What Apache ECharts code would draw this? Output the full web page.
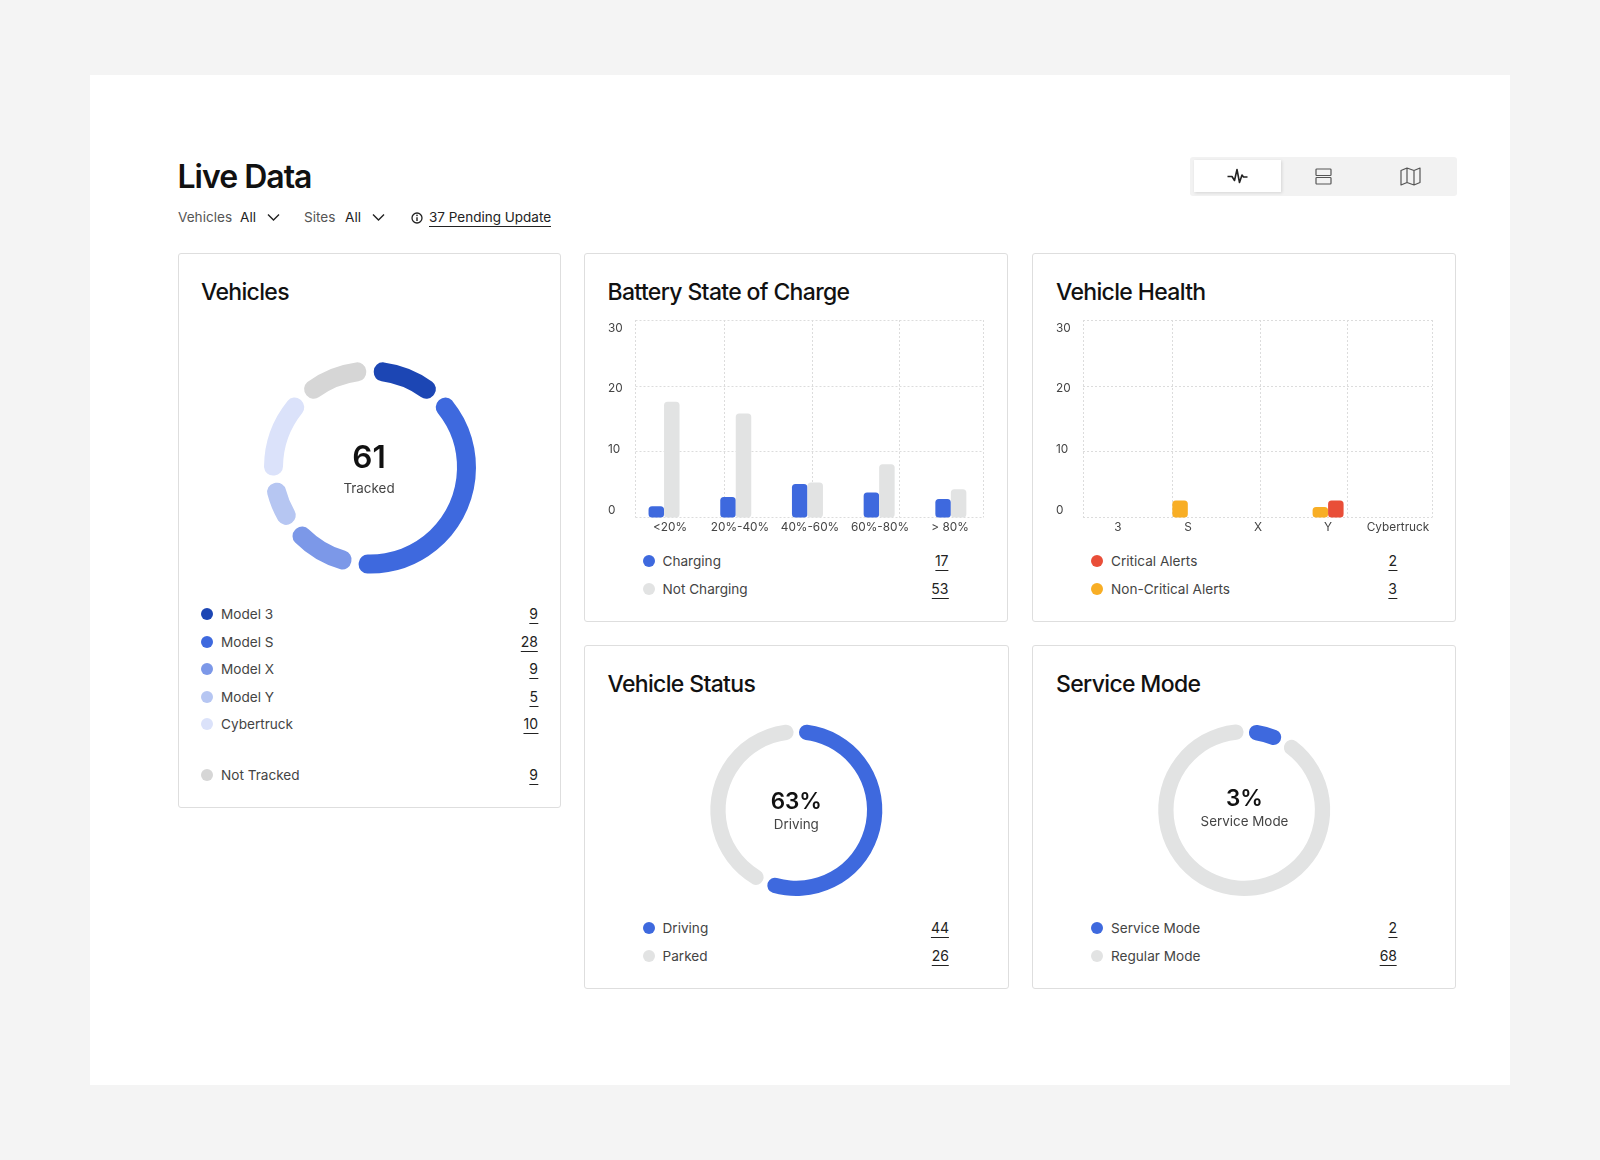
<!DOCTYPE html>
<html><head><meta charset="utf-8">
<script src="https://cdn.jsdelivr.net/npm/echarts@6/dist/echarts.min.js"></script>
<style>
html,body{margin:0;padding:0;background:#f4f4f4;width:1600px;height:1160px;overflow:hidden;font-family:Inter,"Noto Sans",sans-serif;color:#111}
.abs,.card,.t,.row{position:absolute}
#panel{position:absolute;left:90px;top:75px;width:1420px;height:1010px;background:#fff}
.card{box-sizing:border-box;border:1px solid #dedede;border-radius:3px;background:#fff}
.t{white-space:nowrap;line-height:1}
.title{font-size:23px;font-weight:550;letter-spacing:-.65px;color:#111;transform:translateY(-50%)}
.row{height:0;left:0;width:1600px}
.dot{position:absolute;width:12px;height:12px;border-radius:50%;top:-6px}
.lab{position:absolute;top:-8px;font-size:13.6px;line-height:16px;color:#444;white-space:nowrap}
.val{position:absolute;top:-8px;font-size:14px;line-height:16px;color:#222;white-space:nowrap;border-bottom:1px solid #222;padding-bottom:1px;transform:translateX(-100%)}
#chart{position:absolute;left:0;top:0;width:1600px;height:1160px}
</style></head><body>
<div id="panel"></div>
<div id="html"></div>
<div id="chart"></div>
<script>
// ---- data ----
const modelNames = ['Model 3','Model S','Model X','Model Y','Cybertruck','Not Tracked'];
const modelCounts = [9,28,9,5,10,9];
const modelArc = [43.5,145.5,43.5,30.5,53.5,43.5];   // ring share as drawn, degrees
const modelColors = ['#1c46b4','#3e69de','#7c98e8','#b6c6f2','#dbe2fa','#d6d6d6'];
const socCategories = ['<20%','20%-40%','40%-60%','60%-80%','> 80%'];
const socCharging = [1.7,3.1,5.1,3.8,2.8];
const socNotCharging = [17.6,15.8,5.3,8.1,4.3];
const socLegend = [['Charging',17],['Not Charging',53]];
const healthCategories = ['3','S','X','Y','Cybertruck'];
const healthNonCritical = [null,2.6,null,1.6,null];
const healthCritical = [null,null,null,2.6,null];
const healthLegend = [['Critical Alerts',2],['Non-Critical Alerts',3]];
const statusLegend = [['Driving',44],['Parked',26]];
const statusArc = [56.5,43.5];      // share of the ring as drawn
const serviceLegend = [['Service Mode',2],['Regular Mode',68]];
const serviceArc = [7.8,92.2];      // share of the ring as drawn
const yTicks = [0,10,20,30];
const gridColumns = [0,89,176,263,347];  // uneven vertical gridlines of the plot frame

const BLUE='#3e69de', GREY='#e2e3e3', RED='#e94e38', ORANGE='#f8ae25';
const FONT='Inter';

const host=document.getElementById('html');
function add(html){host.insertAdjacentHTML('beforeend',html);}
function card(x,y,w,h,title,tx,ty){
  add(`<div class="card" style="left:${x}px;top:${y}px;width:${w}px;height:${h}px"></div>`);
  add(`<div class="t title" style="left:${tx}px;top:${ty}px">${title}</div>`);
}
function row(dotX,labX,valR,y,color,label,val){
  add(`<div class="row" style="top:${y}px">
  <div class="dot" style="left:${dotX-6}px;background:${color}"></div>
  <div class="lab" style="left:${labX}px">${label}</div>
  <div class="val" style="left:${valR}px">${val}</div></div>`);
}
card(178,253,383,555,'Vehicles',201,291.5);
card(584,253,424,369,'Battery State of Charge',607.5,291.5);
card(1032,253,424,369,'Vehicle Health',1056,291.5);
card(584,645,425,344,'Vehicle Status',607.5,683.5);
card(1032,645,424,344,'Service Mode',1056,683.5);

// header
add(`<div class="t" style="left:177.5px;top:177px;transform:translateY(-50%);font-size:32px;font-weight:600;letter-spacing:-1px">Live Data</div>`);
const f='font-size:13.6px;transform:translateY(-50%);top:218px;';
add(`<div class="t" style="${f}left:178px;color:#555">Vehicles</div>`);
add(`<div class="t" style="${f}left:240px;color:#222">All</div>`);
add(`<div class="t" style="${f}left:304px;color:#555">Sites</div>`);
add(`<div class="t" style="${f}left:345px;color:#222">All</div>`);
const chev=x=>`<svg class="abs" style="left:${x}px;top:213px" width="13" height="9" viewBox="0 0 13 9"><path d="M1 1.5 L6.5 7 L12 1.5" fill="none" stroke="#222" stroke-width="1.4"/></svg>`;
add(chev(266.5));add(chev(371.5));
add(`<svg class="abs" style="left:411px;top:212px" width="12" height="12" viewBox="0 0 12 12"><circle cx="6" cy="6" r="5" fill="none" stroke="#222" stroke-width="1.3"/><path d="M6 5.2V9" stroke="#222" stroke-width="1.4"/><circle cx="6" cy="3.4" r=".8" fill="#222"/></svg>`);
add(`<div class="t" style="left:429px;top:209px;font-size:13.5px;line-height:16px;color:#222;border-bottom:1px solid #222;padding-bottom:1px">37 Pending Update</div>`);

// toggle
add(`<div class="abs" style="left:1190px;top:156.5px;width:266.5px;height:39px;background:#f2f2f2;border-radius:3px"></div>`);
add(`<div class="abs" style="left:1194px;top:160px;width:86.5px;height:32px;background:#fff;box-shadow:1px 1px 3px rgba(0,0,0,.12)"></div>`);
add(`<svg class="abs" style="left:1227px;top:168px" width="21" height="16" viewBox="0 0 21 16"><path d="M0.5 8.5H5L7.5 12.5L10 1.5L12.5 14.5L15 7L16.5 9H20.5" fill="none" stroke="#222" stroke-width="1.6" stroke-linejoin="round"/></svg>`);
add(`<svg class="abs" style="left:1315px;top:168px" width="17" height="17" viewBox="0 0 17 17"><rect x="1" y="1" width="15" height="6.5" rx=".8" fill="none" stroke="#555" stroke-width="1.2"/><rect x="1" y="9.5" width="15" height="6.5" rx=".8" fill="none" stroke="#555" stroke-width="1.2"/></svg>`);
add(`<svg class="abs" style="left:1400px;top:167px" width="21" height="19" viewBox="0 0 21 19"><path d="M1 3.5L7 1L14 3.5L20 1V15.5L14 18L7 15.5L1 18Z M7 1V15.5 M14 3.5V18" fill="none" stroke="#555" stroke-width="1.2" stroke-linejoin="round"/></svg>`);

// legends
const modelRowY=[614,641.5,669,696.7,724,775];
modelNames.forEach((n,i)=>row(207,221,538,modelRowY[i],modelColors[i],n,modelCounts[i]));
const soccol=[BLUE,GREY], healthcol=[RED,ORANGE];
socLegend.forEach((r,i)=>row(648.7,662.5,948.5,[561,588.5][i],soccol[i],r[0],r[1]));
healthLegend.forEach((r,i)=>row(1097,1111,1397,[561,588.5][i],healthcol[i],r[0],r[1]));
statusLegend.forEach((r,i)=>row(648.7,662.5,949,[928,956][i],soccol[i],r[0],r[1]));
serviceLegend.forEach((r,i)=>row(1097,1111,1397,[928,956][i],soccol[i],r[0],r[1]));

// ---- chart ----
function donut(cx,cy,R,r0,values,colors,names,start,pad,radius){
  return {type:'pie',center:[cx,cy],radius:[r0,R],startAngle:start,padAngle:pad,clockwise:true,silent:true,
    avoidLabelOverlap:false,label:{show:false},labelLine:{show:false},animation:false,
    itemStyle:{borderRadius:radius,borderWidth:0},
    data:values.map((v,i)=>({name:names[i],value:v,itemStyle:{color:colors[i]}}))};
}
const gridBoxes=[
  // dotted plot frames
  {left:635.5,top:320,width:347.5,height:197.5},
  {left:1083,top:320,width:349,height:197.5},
  // bar bands
  {left:628.2,top:320,width:358.5,height:197.5},
  {left:1082.6,top:320,width:350.7,height:197.5},
  // label scaffolds (the reference's tick labels sit off the gridlines)
  {left:635,top:328,width:350,height:182},
  {left:1083,top:328,width:350,height:182}
].map(g=>Object.assign({outerBoundsMode:'none'},g));
const dotted={show:true,lineStyle:{color:'#dcdcdc',type:[2,2],width:1}};
const off={show:false};
const xAxes=[0,1].map(g=>({gridIndex:g,type:'value',min:gridColumns[0],max:gridColumns[4],
  axisLine:off,axisTick:{show:false,customValues:gridColumns},axisLabel:off,splitLine:dotted}));
xAxes.push(
  {gridIndex:2,type:'category',data:socCategories,axisLine:off,axisTick:off,axisLabel:off,splitLine:off},
  {gridIndex:3,type:'category',data:healthCategories,axisLine:off,axisTick:off,axisLabel:off,splitLine:off});
[[4,socCategories],[5,healthCategories]].forEach(([g,c])=>xAxes.push({gridIndex:g,type:'category',data:c,axisLine:off,axisTick:off,splitLine:off,
  axisLabel:{show:true,interval:0,margin:11,fontFamily:FONT,fontSize:11.8,color:'#444',hideOverlap:false}}));
const yAxes=[0,1,2,3].map(g=>({gridIndex:g,type:'value',min:0,max:30,interval:10,axisLine:off,axisTick:off,axisLabel:off,splitLine:g<2?dotted:off}));
[4,5].forEach(g=>yAxes.push({gridIndex:g,type:'value',min:yTicks[0],max:yTicks[3],interval:10,axisLine:off,axisTick:off,splitLine:off,
  axisLabel:{show:true,margin:27,align:'left',fontFamily:FONT,fontSize:11.8,color:'#444'}}));
function bar(name,data,color,idx){return {type:'bar',name,data,xAxisIndex:idx,yAxisIndex:idx,barWidth:15.5,barGap:0,silent:true,animation:false,
  itemStyle:{color,borderRadius:3.5}};}
const centerText=(x,y,txt,size,weight,color)=>({type:'text',x,y,silent:true,style:{text:txt,fontFamily:FONT,fontSize:size,fontWeight:weight,fill:color,align:'center',verticalAlign:'middle'}});
const chart=echarts.init(document.getElementById('chart'),null,{renderer:'canvas'});
chart.setOption({
  animation:false,backgroundColor:'transparent',tooltip:{show:false},legend:{show:false},
  grid:gridBoxes,xAxis:xAxes,yAxis:yAxes,
  series:[
    donut(370,467.5,106,87,modelArc,modelColors,modelNames,90,4.5,9),
    donut(796.3,810,86,70.7,statusArc,[BLUE,GREY],statusLegend.map(r=>r[0]),90,4,7.5),
    donut(1244.2,810,86,70.7,serviceArc,[BLUE,GREY],serviceLegend.map(r=>r[0]),88.5,4,7.5),
    bar('Charging',socCharging,BLUE,2),
    bar('Not Charging',socNotCharging,GREY,2),
    bar('Non-Critical Alerts',healthNonCritical,ORANGE,3),
    bar('Critical Alerts',healthCritical,RED,3),
  ],
  graphic:[
    centerText(369,459,'61',31.5,600,'#111'),
    centerText(369,489,'Tracked',13.4,400,'#444'),
    centerText(796.3,802.5,'63%',22.5,600,'#111'),
    centerText(796.3,824.5,'Driving',13.4,400,'#444'),
    centerText(1244.5,799.5,'3%',22.5,600,'#111'),
    centerText(1244.5,821.5,'Service Mode',13.4,400,'#444'),
  ]
});
</script></body></html>
